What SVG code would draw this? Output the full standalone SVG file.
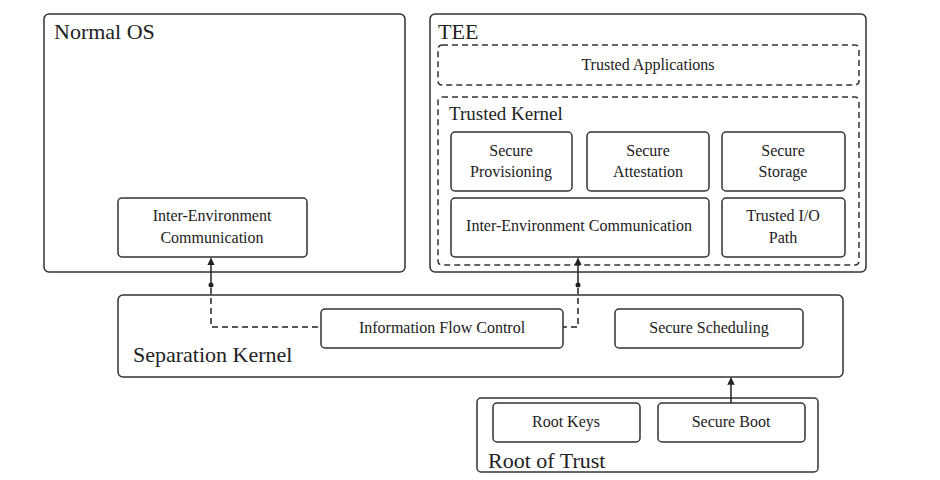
<svg xmlns="http://www.w3.org/2000/svg" width="940" height="480" viewBox="0 0 940 480">
<defs>
<style>
.box{fill:#fff;stroke:#333;stroke-width:1.5}
.dbox{fill:none;stroke:#333;stroke-width:1.5;stroke-dasharray:6 4}
.t{font-family:"Liberation Serif","Times New Roman",serif;fill:#222}
.big{font-size:22px}
.lbl{font-size:16px;text-anchor:middle}
.line{fill:none;stroke:#222;stroke-width:1.5}
.dash{fill:none;stroke:#222;stroke-width:1.5;stroke-dasharray:6 4}
</style>
<marker id="ah" viewBox="0 0 10 10" refX="9" refY="5" markerWidth="5" markerHeight="5" orient="auto-start-reverse">
<path d="M0,0 L10,5 L0,10 z" fill="#222"/>
</marker>
</defs>
<rect width="940" height="480" fill="#fff"/>

<g id="normal-os">
<rect class="box" x="44" y="14" width="361" height="258" rx="5"/>
<text class="t big" x="54" y="39">Normal OS</text>
</g>
<g id="normal-iec">
<rect class="box" x="118" y="198" width="189" height="59" rx="4"/>
<text class="t lbl" x="212" y="221">Inter-Environment</text>
<text class="t lbl" x="212" y="243">Communication</text>
</g>

<g id="tee">
<rect class="box" x="430" y="14" width="436" height="258" rx="5"/>
<text class="t big" x="438" y="39">TEE</text>
</g>
<g id="trusted-apps">
<rect class="dbox" x="438" y="45" width="421" height="40" rx="4"/>
<text class="t lbl" x="648" y="70">Trusted Applications</text>
</g>
<g id="trusted-kernel">
<rect class="dbox" x="438" y="97" width="421" height="168" rx="4"/>
<text class="t" font-size="19" x="449" y="120">Trusted Kernel</text>
</g>
<g id="secure-provisioning">
<rect class="box" x="451" y="132" width="121" height="59" rx="4"/>
<text class="t lbl" x="511" y="156">Secure</text>
<text class="t lbl" x="511" y="177">Provisioning</text>
</g>
<g id="secure-attestation">
<rect class="box" x="587" y="132" width="122" height="59" rx="4"/>
<text class="t lbl" x="648" y="156">Secure</text>
<text class="t lbl" x="648" y="177">Attestation</text>
</g>
<g id="secure-storage">
<rect class="box" x="722" y="132" width="123" height="59" rx="4"/>
<text class="t lbl" x="783" y="156">Secure</text>
<text class="t lbl" x="783" y="177">Storage</text>
</g>
<g id="tee-iec">
<rect class="box" x="451" y="198" width="258" height="59" rx="4"/>
<text class="t lbl" x="579" y="231">Inter-Environment Communication</text>
</g>
<g id="trusted-io">
<rect class="box" x="722" y="198" width="123" height="59" rx="4"/>
<text class="t lbl" x="783" y="221">Trusted I/O</text>
<text class="t lbl" x="783" y="243">Path</text>
</g>

<g id="separation-kernel">
<rect class="box" x="118" y="295" width="725" height="82" rx="5"/>
<text class="t big" x="133" y="362">Separation Kernel</text>
</g>
<g id="info-flow">
<rect class="box" x="321" y="309" width="242" height="39" rx="4"/>
<text class="t lbl" x="442" y="333">Information Flow Control</text>
</g>
<g id="secure-scheduling">
<rect class="box" x="615" y="309" width="188" height="39" rx="4"/>
<text class="t lbl" x="709" y="333">Secure Scheduling</text>
</g>

<g id="root-of-trust">
<rect class="box" x="477" y="398" width="341" height="74" rx="4"/>
<text class="t big" x="488" y="468">Root of Trust</text>
</g>
<g id="root-keys">
<rect class="box" x="493" y="403" width="147" height="39" rx="4"/>
<text class="t lbl" x="566" y="427">Root Keys</text>
</g>
<g id="secure-boot">
<rect class="box" x="658" y="403" width="147" height="39" rx="4"/>
<text class="t lbl" x="731" y="427">Secure Boot</text>
</g>

<g id="connectors">
<line class="line" x1="211" y1="285" x2="211" y2="258.5" marker-end="url(#ah)"/>
<circle cx="211" cy="285" r="2.5" fill="#222"/>
<path class="dash" d="M211,288 V327 H321"/>
<line class="line" x1="578" y1="285" x2="578" y2="258.5" marker-end="url(#ah)"/>
<circle cx="578" cy="285" r="2.5" fill="#222"/>
<path class="dash" d="M578,288 V327 H563"/>
<line class="line" x1="731" y1="403" x2="731" y2="378" marker-end="url(#ah)"/>
</g>
</svg>
